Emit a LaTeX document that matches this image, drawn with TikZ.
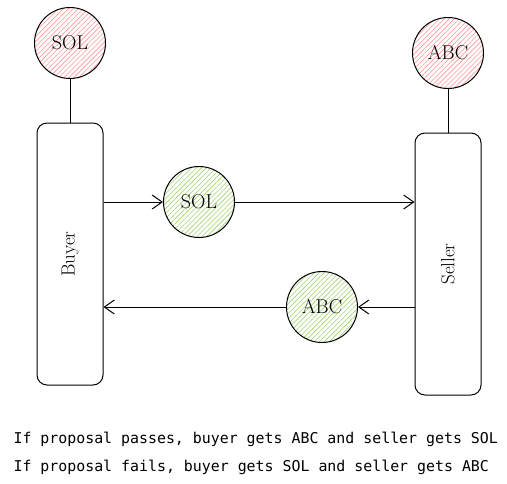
\documentclass[tikz,border=0pt]{standalone}
\usepackage{fontspec}
\newfontfamily\codefont{DejaVu Sans Mono}
\usepackage{xcolor}
\usepackage{tikz}
\usetikzlibrary{positioning}
\usetikzlibrary{arrows.meta}
\usetikzlibrary{patterns.meta}
\definecolor{redhatch}{RGB}{255,150,150}
\definecolor{greenhatch}{RGB}{160,210,110}
\tikzset{
    party/.style={draw,line width=1pt,rounded corners=10pt,minimum width=66pt,minimum height=262pt,font=\fontsize{19}{22}\selectfont},
    token/.style={circle,draw,line width=1pt,minimum size=71pt,inner sep=0pt,font=\fontsize{20}{22}\selectfont,pattern={Lines[angle=45,distance=3.5pt,line width=0.6pt]}},
    held/.style={token,pattern color=redhatch},
    moving/.style={token,pattern color=greenhatch},
    flow/.style={line width=1pt,-{Straight Barb[length=10pt,width=14pt,line width=1pt]}},
    caption/.style={anchor=base west,font=\codefont\fontsize{14.9}{17}\selectfont},
}
\begin{document}
\begin{tikzpicture}[x=1pt,y=-1pt]
                        \useasboundingbox (0,0) rectangle (507,483);
                        \node [party] (Buyer) at (70,254) {\rotatebox{90}{Buyer}};
                        \node [party] (Seller) at (448,264) {\rotatebox{90}{Seller}};
                        \node [held] (买方SOL) at (70,43) {SOL};
                        \node [held] (卖方ABC) at (448,53) {ABC};
                        \node [moving] (转出SOL) at (199,202) {SOL};
                        \node [moving] (转出ABC) at (322,307) {ABC};
                        \node [caption] (passes) at (10,443) {If proposal passes, buyer gets ABC and seller gets SOL};
                        \node [caption] (fails) at (10,471) {If proposal fails, buyer gets SOL and seller gets ABC};
                    \draw[line width=1pt]
                        (买方SOL) -- (Buyer)
                        (卖方ABC) -- (Seller);
                    \path[flow]
                        (Buyer.east |- 转出SOL) edge (转出SOL)
                        (转出SOL) edge (Seller.west |- 转出SOL)
                        (Seller.west |- 转出ABC) edge (转出ABC)
                        (转出ABC) edge (Buyer.east |- 转出ABC)
                        % (Seller) edge [dashed] (Buyer)
                    ;
                    \end{tikzpicture}
\end{document}
